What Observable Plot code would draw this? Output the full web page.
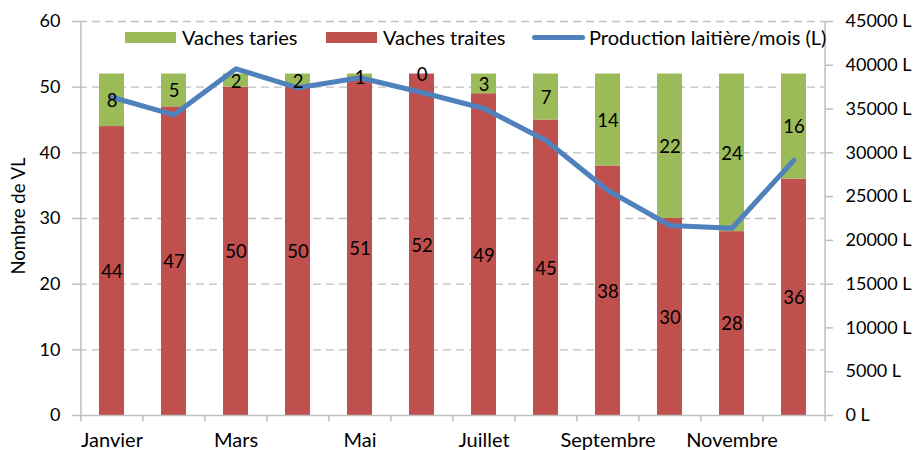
<!DOCTYPE html>
<html>
<head>
<meta charset="utf-8">
<script src="https://cdn.jsdelivr.net/npm/d3@7"></script>
<script src="https://cdn.jsdelivr.net/npm/@observablehq/plot@0.6"></script>
<style>
  body { margin: 0; background: #fff; font-family: Lato, "Open Sans", sans-serif; }
  #wrap { position: relative; width: 915px; height: 450px; overflow: hidden; }
  .lg { position: absolute; font-size: 20px; color: #000; line-height: 22px; white-space: nowrap; }
  .sw { position: absolute; }
  #ytitle { position: absolute; left: 18px; top: 216px; transform: translate(-50%, -50%) rotate(-90deg); font-size: 18.5px; white-space: nowrap; }
</style>
</head>
<body>
<div id="wrap"></div>
<script>
const months = ["Janvier","Février","Mars","Avril","Mai","Juin","Juillet","Août","Septembre","Octobre","Novembre","Décembre"];
const traites = [44,47,50,50,51,52,49,45,38,30,28,36];
const taries = [8,5,2,2,1,0,3,7,14,22,24,16];
const production = [36350,34340,39600,37430,38570,36890,35060,31410,25700,21700,21390,29170];
const xTickLabels = ["Janvier","Mars","Mai","Juillet","Septembre","Novembre"];
const leftTicks = [0,10,20,30,40,50,60];
const rightTicks = [0,5000,10000,15000,20000,25000,30000,35000,40000,45000];

const RED = "#C0504D", GREEN = "#9BBB59", BLUE = "#4F81BD", GRID = "#BFBFBF";
const W = 915, H = 450, ML = 79, MR = 90, MT = 21, MB = 35;
const yMax = 60, prodMax = 45000;
const toLeft = v => v * yMax / prodMax;
const step = (W - ML - MR) / months.length;

const rows = months.map((m, i) => ({month: m, traites: traites[i], taries: taries[i], total: traites[i] + taries[i], prod: toLeft(production[i])}));

const chart = Plot.plot({
  width: W, height: H,
  marginLeft: ML, marginRight: MR, marginTop: MT, marginBottom: MB,
  style: {fontFamily: "Lato, 'Open Sans', sans-serif", fontSize: "18px", color: "#000", background: "#fff", overflow: "visible"},
  x: {type: "band", domain: months, paddingInner: 0.6, paddingOuter: 0.3, axis: null},
  y: {domain: [0, yMax], axis: null},
  marks: [
    Plot.ruleY(leftTicks.filter(d => d > 0), {y: d => d, stroke: GRID, strokeWidth: 1.4, strokeDasharray: "8,5"}),
    Plot.barY(rows, {x: "month", y1: 0, y2: "traites", fill: RED}),
    Plot.barY(rows, {x: "month", y1: "traites", y2: "total", fill: GREEN}),
    Plot.ruleY([0], {stroke: GRID, strokeWidth: 1.5}),
    Plot.ruleX([months[0]], {x: d => d, dx: -step / 2, y1: 0, y2: yMax, stroke: GRID, strokeWidth: 1.5}),
    Plot.ruleX([months[months.length - 1]], {x: d => d, dx: step / 2, y1: 0, y2: yMax, stroke: GRID, strokeWidth: 1.5}),
    Plot.ruleX(months, {x: d => d, dx: -step / 2, y1: 0, y2: -1, stroke: GRID, strokeWidth: 1.5}),
    Plot.ruleX([months[months.length - 1]], {x: d => d, dx: step / 2, y1: 0, y2: -1, stroke: GRID, strokeWidth: 1.5}),
    Plot.axisY(leftTicks, {anchor: "left", tickSize: 7, tickPadding: 12, stroke: GRID, strokeWidth: 1.5, fontSize: 18, label: null}),
    Plot.axisY(rightTicks.map(toLeft), {anchor: "right", tickSize: 7, tickPadding: 13, stroke: GRID, strokeWidth: 1.5, fontSize: 18, label: null,
      tickFormat: d => Math.round(d * prodMax / yMax) + " L"}),
    Plot.axisX(xTickLabels, {anchor: "bottom", tickSize: 0, tickPadding: 17, fontSize: 20, label: null}),
    Plot.line(rows, {x: "month", y: "prod", stroke: BLUE, strokeWidth: 5, strokeLinejoin: "round", strokeLinecap: "round"}),
    Plot.text(rows, {x: "month", y: d => d.traites / 2, dy: 1, text: d => String(d.traites), fontSize: 18.5, fill: "#000"}),
    Plot.text(rows, {x: "month", y: d => d.traites + d.taries / 2, dy: 1, text: d => String(d.taries), fontSize: 18.5, fill: "#000"})
  ]
});

const wrap = document.getElementById("wrap");
wrap.appendChild(chart);

const legendItems = [
  {label: "Vaches taries", kind: "rect", color: GREEN, x: 125},
  {label: "Vaches traites", kind: "rect", color: RED, x: 326},
  {label: "Production laitière/mois (L)", kind: "line", color: BLUE, x: 532}
];
for (const it of legendItems) {
  const sw = document.createElement("div");
  sw.className = "sw";
  if (it.kind === "rect") {
    Object.assign(sw.style, {left: it.x + "px", top: "32px", width: "51px", height: "11px", background: it.color});
  } else {
    Object.assign(sw.style, {left: it.x + "px", top: "35px", width: "53px", height: "5px", background: it.color, borderRadius: "3px"});
  }
  wrap.appendChild(sw);
  const t = document.createElement("div");
  t.className = "lg";
  t.textContent = it.label;
  Object.assign(t.style, {left: (it.x + 57) + "px", top: "26px"});
  wrap.appendChild(t);
}
const yt = document.createElement("div");
yt.id = "ytitle";
yt.textContent = "Nombre de VL";
wrap.appendChild(yt);
</script>
</body>
</html>
